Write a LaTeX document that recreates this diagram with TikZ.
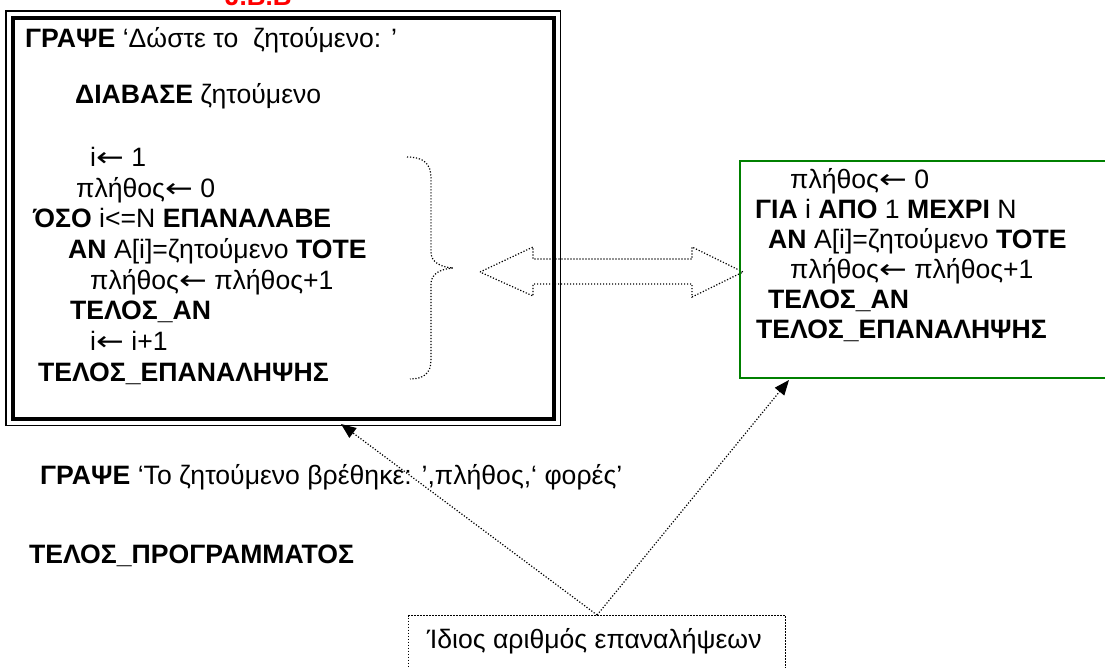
\documentclass[tikz,border=0pt]{standalone}
\usepackage{fontspec}
\setmainfont{Liberation Sans}
\newfontfamily\arrowfont{DejaVu Sans}
\newcommand{\larr}{{\arrowfont\scalebox{1.25}[1]{←}}}
\usetikzlibrary{arrows.meta,calc}
\definecolor{wordgreen}{RGB}{0,128,0}
\definecolor{wordred}{RGB}{255,0,0}
\begin{document}
\begin{tikzpicture}[x=1pt,y=-1pt,
  txt/.style={anchor=base west, inner sep=0pt, font=\fontsize{26.6}{30}\selectfont},
  dots/.style={line width=1.2pt, dash pattern=on 1.2pt off 1.8pt},
  conn/.style={dots, -{Triangle[length=15pt,width=12pt]}},
  box/.style={draw, inner sep=0pt, anchor=north west}]
\clip (0,0) rectangle (1105,667);
\fill[white] (0,0) rectangle (1105,667);

% title (cut off at top, as in the reference)
\node[anchor=base west, inner sep=0pt, text=wordred, font=\fontsize{26}{30}\selectfont\bfseries] (title) at (225,5) {J.B.B};

% left double-framed box
\node[box, line width=4.5pt, minimum width=541pt, minimum height=401pt] (lbox) at (10.5,15.5) {};
\draw[line width=1.5pt] ($(lbox.north west)+(-4.5,-4.5)$) rectangle ($(lbox.south east)+(4.5,4.5)$);

\node[txt] (l1) at (25,47) {\textbf{ΓΡΑΨΕ} ‘Δώστε το\ \ ζητούμενο: ’};
\node[txt] (l2) at (75,103) {\textbf{ΔΙΑΒΑΣΕ} ζητούμενο};
\node[txt] (l3) at (90,166) {i\larr\ 1};
\node[txt] (l4) at (76,197) {πλήθος\larr\ 0};
\node[txt] (l5) at (33,227) {\textbf{ΌΣΟ} i<=N \textbf{ΕΠΑΝΑΛΑΒΕ}};
\node[txt] (l6) at (68,258) {\textbf{ΑΝ} Α[i]=ζητούμενο \textbf{ΤΟΤΕ}};
\node[txt] (l7) at (90,289) {πλήθος\larr\ πλήθος+1};
\node[txt] (l8) at (70,319) {\textbf{ΤΕΛΟΣ\_ΑΝ}};
\node[txt] (l9) at (90,350) {i\larr\ i+1};
\node[txt] (l10) at (38,381) {\textbf{ΤΕΛΟΣ\_ΕΠΑΝΑΛΗΨΗΣ}};

% dotted brace
\draw[dots] (407,157) .. controls (424,157) and (431,164) .. (431,178)
  -- (431,252) .. controls (431,262) and (440,267) .. (453,268)
  .. controls (440,269) and (431,274) .. (431,284)
  -- (431,360) .. controls (431,373) and (424,379) .. (410,379);

% dotted double block arrow
\draw[dots] (480,272) -- (533,247) -- (533,259) -- (692,259) -- (692,247)
  -- (743,272) -- (692,297) -- (692,284) -- (533,284) -- (533,296) -- cycle;

% right green box
\node[box, draw=wordgreen, line width=2pt, minimum width=400pt, minimum height=217pt] (rbox) at (739,160) {};
\node[txt] (r1) at (790,188) {πλήθος\larr\ 0};
\node[txt] (r2) at (755,218) {\textbf{ΓΙΑ} i \textbf{ΑΠΟ} 1 \textbf{ΜΕΧΡΙ} Ν};
\node[txt] (r3) at (768,248) {\textbf{ΑΝ} Α[i]=ζητούμενο \textbf{ΤΟΤΕ}};
\node[txt] (r4) at (790,278) {πλήθος\larr\ πλήθος+1};
\node[txt] (r5) at (768,308) {\textbf{ΤΕΛΟΣ\_ΑΝ}};
\node[txt] (r6) at (756,338) {\textbf{ΤΕΛΟΣ\_ΕΠΑΝΑΛΗΨΗΣ}};

% lines below the box
\node[txt] (b1) at (40,484) {\textbf{ΓΡΑΨΕ} ‘Το ζητούμενο βρέθηκε: ’,πλήθος,‘ φορές’};
\node[txt] (b2) at (29,563) {\textbf{ΤΕΛΟΣ\_ΠΡΟΓΡΑΜΜΑΤΟΣ}};

% dotted note box
\node[box, dots, minimum width=377pt, minimum height=90pt] (rep) at (408,615) {};
\node[txt] (reptext) at (427,648) {Ίδιος αριθμός επαναλήψεων};

\coordinate (tipL) at (341,424);
\coordinate (tipR) at (789,380);
\draw[conn] (rep.north) -- (tipL);
\draw[conn] (rep.north) -- (tipR);
\end{tikzpicture}
\end{document}
